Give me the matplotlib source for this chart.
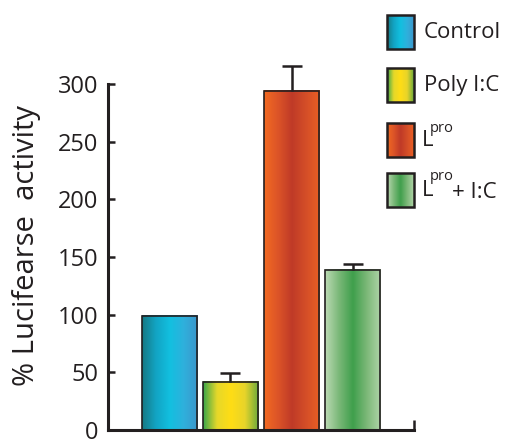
import numpy as np
import matplotlib
matplotlib.use("Agg")
import matplotlib.pyplot as plt
from matplotlib.colors import LinearSegmentedColormap
from matplotlib.patches import Rectangle

plt.rcParams['font.family'] = ['Open Sans', 'DejaVu Sans']

groups = ["Control", "Poly I:C", "Lpro", "Lpro + I:C"]
values = [99, 42, 294, 139]
errors = [0, 7, 22, 5]
yticks = [0, 50, 100, 150, 200, 250, 300]

# horizontal gradient stops for each bar
grad_stops = [
    ["#167a84", "#12a4c4", "#12c0e0", "#2fb0dc", "#3c96cc"],
    ["#3aa64a", "#e6d82a", "#ffdd15", "#e8d42a", "#6aaa3c"],
    ["#f26a21", "#dc5428", "#bf3a27", "#d44e28", "#ea5f24"],
    ["#bcdab4", "#7ab878", "#3f9f4c", "#7cb878", "#b0d4a8"],
]
ink = "#231f20"

fig = plt.figure(figsize=(5.06, 4.41), dpi=100)
ax = fig.add_axes([108/506, 1 - 430/441, 306/506, 346/441])

x = np.arange(len(values))
bars = ax.bar(x, values, width=0.9, color="none", edgecolor=ink, linewidth=1.2, zorder=3)
eb = ax.errorbar(x[1:], values[1:], yerr=[np.zeros(3), errors[1:]], fmt="none",
                 ecolor=ink, elinewidth=1.8, capsize=7, capthick=1.8, zorder=2, clip_on=False)
# keep only the upper caps
eb[1][0].set_visible(False)
for c in eb[1]:
    c.set_clip_on(False)

cmaps = [LinearSegmentedColormap.from_list("g%d" % i, s) for i, s in enumerate(grad_stops)]
grad = np.linspace(0, 1, 200).reshape(1, -1)
for b, cm in zip(bars, cmaps):
    x0, w, h = b.get_x(), b.get_width(), b.get_height()
    ax.imshow(grad, cmap=cm, aspect="auto", extent=[x0, x0 + w, 0, h],
              zorder=1, interpolation="bicubic")

ax.set_xlim(-1, 4)
ax.set_ylim(0, 300)
ax.set_yticks(yticks)
ax.set_xticks([4])
ax.set_xticklabels([""])
ax.tick_params(axis="y", direction="in", length=5, width=1.8, labelsize=17, colors=ink, pad=7)
ax.tick_params(axis="x", direction="in", length=7, width=1.8, colors=ink)
for s in ["top", "right"]:
    ax.spines[s].set_visible(False)
for s in ["left", "bottom"]:
    ax.spines[s].set_linewidth(2.2)
    ax.spines[s].set_color(ink)
ax.set_ylabel("% Lucifearse  activity", fontsize=21, color=ink, va="center")
ax.yaxis.set_label_coords((27 - 108) / 306, (430 - 245) / 346)

# legend drawn in pixel coordinates
lg = fig.add_axes([0, 0, 1, 1], facecolor="none")
lg.axis("off")
patch_tops = [15, 68, 123, 173]
for top, cm in zip(patch_tops, cmaps):
    lg.imshow(grad, cmap=cm, aspect="auto", extent=[387, 414, top + 34, top],
              interpolation="bicubic", zorder=1)
    lg.add_patch(Rectangle((387, top), 27, 34, fill=False, edgecolor=ink, linewidth=1.8, zorder=2))
lg.set_xlim(0, 506)
lg.set_ylim(441, 0)
fs = 16
lg.text(424, 32, "Control", fontsize=fs, color=ink, va="center", ha="left")
lg.text(424, 85, "Poly I:C", fontsize=fs, color=ink, va="center", ha="left")
lg.text(422, 141, "L", fontsize=fs, color=ink, va="center", ha="left")
lg.text(430, 128, "pro", fontsize=10.5, color=ink, va="center", ha="left")
lg.text(422, 191, "L", fontsize=fs, color=ink, va="center", ha="left")
lg.text(430, 177, "pro", fontsize=10.5, color=ink, va="center", ha="left")
lg.text(452, 192, "+ I:C", fontsize=fs, color=ink, va="center", ha="left")

fig.savefig("out.png", dpi=100)
